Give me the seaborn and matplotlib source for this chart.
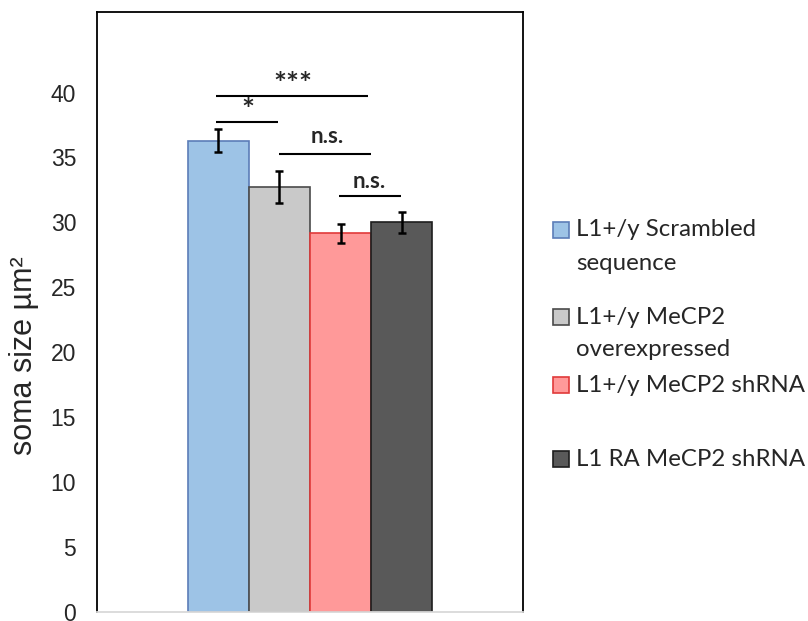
import pandas as pd
import matplotlib.pyplot as plt
import seaborn as sns
from matplotlib.patches import Rectangle

# values
groups = ['L1+/y Scrambled\nsequence', 'L1+/y MeCP2\noverexpressed',
          'L1+/y MeCP2 shRNA', 'L1 RA MeCP2 shRNA']
soma_size = [36.3, 32.75, 29.15, 30.0]
sem = [0.91, 1.22, 0.7, 0.8]
y_ticks = [0, 5, 10, 15, 20, 25, 30, 35, 40]

fill_colors = ['#9DC3E6', '#C9C9C9', '#FF9999', '#595959']
edge_colors = ['#5B7DB8', '#4A4A4A', '#E03A3A', '#1E1E1E']

# significance brackets: (x start, x end, line y, label, text x, text baseline, size)
brackets = [
    (-0.221, 0.135, 39.77, '***', -0.041, 39.9, 22),
    (-0.221, -0.074, 37.74, '*', -0.146, 37.9, 22),
    (-0.073, 0.1425, 35.30, 'n.s.', 0.040, 36.15, 16),
    (0.067, 0.213, 32.00, 'n.s.', 0.1385, 32.65, 16),
]


def main():
    sns.set_style('white')
    plt.rcParams['font.family'] = ['Liberation Sans', 'DejaVu Sans']

    W, H = 808, 621
    fig = plt.figure(figsize=(W / 100, H / 100), dpi=100)
    ax = fig.add_axes([97 / W, 9 / H, 426 / W, 600 / H])

    df = pd.DataFrame({'cond': ['soma'] * len(groups), 'group': groups,
                       'size': soma_size})
    sns.barplot(data=df, x='cond', y='size', hue='group', hue_order=groups,
                palette=fill_colors, width=0.575, errorbar=None,
                saturation=1, legend=False, ax=ax)

    for i, bar in enumerate(ax.patches[:len(groups)]):
        bar.set_edgecolor(edge_colors[i])
        bar.set_linewidth(1.2)
        xc = bar.get_x() + bar.get_width() / 2
        ax.errorbar(xc, bar.get_height(), yerr=sem[i], fmt='none',
                    ecolor='black', elinewidth=1.8, capsize=2.8,
                    capthick=1.8, zorder=5)

    for x0, x1, y, label, tx, ty, fs in brackets:
        ax.plot([x0, x1], [y, y], color='black', lw=1.5, solid_capstyle='butt')
        ax.text(tx, ty, label, ha='center', va='baseline', fontsize=fs,
                fontweight='bold', family=['Lato', 'DejaVu Sans'])

    ax.set_xlim(-0.5, 0.5)
    ax.set_ylim(0, 46.2)
    ax.set_yticks(y_ticks)
    ax.set_xticks([])
    ax.set_xlabel('')
    ax.tick_params(axis='y', length=0, pad=15, labelsize=16.5)
    ax.set_ylabel('soma size µm²', fontsize=22)
    ax.yaxis.set_label_coords(-0.135, 0.427)

    for side in ['left', 'top', 'right']:
        ax.spines[side].set_color('black')
        ax.spines[side].set_linewidth(1.3)
    ax.spines['bottom'].set_color('#D9D9D9')
    ax.spines['bottom'].set_linewidth(1.3)

    # legend drawn by hand so the swatch lines up with the first text line
    first_line = [230, 317, 385, 459]
    for i, label in enumerate(groups):
        y0 = first_line[i]
        fig.add_artist(Rectangle((553 / W, 1 - (y0 + 8) / H), 16 / W, 16 / H,
                                 facecolor=fill_colors[i],
                                 edgecolor=edge_colors[i], lw=1.2,
                                 transform=fig.transFigure))
        for k, line in enumerate(label.split('\n')):
            fig.text(576 / W, 1 - (y0 + k * 33) / H, line, va='center',
                     ha='left', fontsize=17.3, family=['Lato', 'DejaVu Sans'])

    fig.savefig('out.png', dpi=100)
    plt.close(fig)


if __name__ == "__main__":
    main()
